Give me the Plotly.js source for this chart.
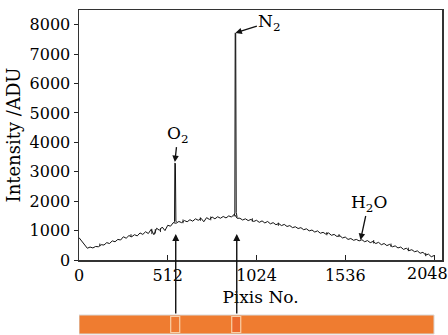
<!DOCTYPE html>
<html>
<head>
<meta charset="utf-8">
<script src="https://cdn.plot.ly/plotly-3.0.1.min.js"></script>
<style>html,body{margin:0;padding:0;background:#fff;}#chart{width:448px;height:335px;}</style>
</head>
<body>
<div id="chart"></div>
<script>
// Baseline spectrum (pixel index, intensity in ADU)
const basePixels = [0,16,32,48,64,80,96,112,128,144,160,176,192,208,224,240,256,272,288,304,320,336,352,368,384,400,416,432,448,464,480,496,512,528,544,560,576,592,608,624,640,656,672,688,704,720,736,752,768,784,800,816,832,848,864,880,896,912,928,944,960,976,992,1008,1024,1040,1056,1072,1088,1104,1120,1136,1152,1168,1184,1200,1216,1232,1248,1264,1280,1296,1312,1328,1344,1360,1376,1392,1408,1424,1440,1456,1472,1488,1504,1520,1536,1552,1568,1584,1600,1616,1632,1648,1664,1680,1696,1712,1728,1744,1760,1776,1792,1808,1824,1840,1856,1872,1888,1904,1920,1936,1952,1968,1984,2000,2016,2032,2048];
const baseCounts = [760,640,480,400,440,410,460,450,520,510,590,560,650,620,700,680,790,740,830,790,860,820,920,870,960,900,1040,860,1080,1010,1120,1000,1180,1150,1270,1250,1310,1270,1340,1300,1370,1320,1400,1350,1420,1300,1440,1380,1460,1400,1470,1420,1480,1430,1500,1460,1560,1420,1420,1360,1400,1340,1380,1310,1350,1280,1330,1260,1310,1230,1270,1200,1240,1170,1210,1140,1170,1100,1130,1070,1100,1030,1060,990,1020,950,990,910,940,880,920,840,870,800,830,750,780,700,730,670,700,650,690,620,660,590,630,560,600,520,560,490,530,450,480,410,440,360,400,320,350,280,310,230,260,170,200,110,150];
// Short noise spikes on the baseline (pixel, low, high)
const spikePixels = [120,300,420,440,470,600,700,760,1000,1150,1430,1500,1700,1800,1900,2000];
const spikeLow    = [470,780,880,900,950,1250,1330,1350,1300,1160,840,780,560,440,300,130];
const spikeHigh   = [560,880,1060,1050,1080,1380,1450,1480,1420,1270,950,880,680,560,420,240];
// O2 line
const o2Pixels = [546,551,553,556,559,564];
const o2Counts = [1270,1300,3300,3280,1320,1290];
// N2 line
const n2Pixels = [894,899,901,904,907,912];
const n2Counts = [1480,1600,7720,7700,1620,1450];
// Axis ticks
const xTicks = [0,512,1024,1536,2048];
const xTickText = ['0','512','1024','1536',''];
const yTicks = [0,1000,2000,3000,4000,5000,6000,7000,8000];
// Detector strip and highlighted regions (pixel ranges)
const stripRange = [0,2048];
const o2Region = [529,581];
const n2Region = [881,933];

const serif = 'DejaVu Serif, serif';
const lineStyle = {color:'#111', width:1};

const spikeX = [], spikeY = [];
spikePixels.forEach((p, i) => { spikeX.push(p, p, null); spikeY.push(spikeLow[i], spikeHigh[i], null); });

const traces = [
  {x:basePixels, y:baseCounts, type:'scatter', mode:'lines', line:lineStyle, hoverinfo:'skip'},
  {x:spikeX, y:spikeY, type:'scatter', mode:'lines', line:{color:'#111', width:0.9}, hoverinfo:'skip', connectgaps:false},
  {x:o2Pixels, y:o2Counts, type:'scatter', mode:'lines', line:lineStyle, hoverinfo:'skip'},
  {x:n2Pixels, y:n2Counts, type:'scatter', mode:'lines', line:lineStyle, hoverinfo:'skip'}
];

const fnt = {family:serif, size:16, color:'#000'};

const layout = {
  width:448, height:335,
  margin:{l:79, r:6, t:10, b:75},
  paper_bgcolor:'#fff', plot_bgcolor:'#fff',
  showlegend:false,
  font:fnt,
  xaxis:{
    range:[0,2094], tickvals:xTicks, ticktext:xTickText,
    ticks:'inside', ticklen:5, tickcolor:'#222',
    showline:true, linecolor:'#333', linewidth:1.5, mirror:true,
    showgrid:false, zeroline:false,
    tickfont:fnt,
    title:{text:'Pixis No.', font:{family:serif, size:17, color:'#000'}, standoff:7}
  },
  yaxis:{
    range:[0,8500], tickvals:yTicks, ticktext:yTicks.map(String),
    ticks:'outside', ticklen:4, tickcolor:'#222',
    showline:true, linecolor:'#333', linewidth:1.5, mirror:true,
    showgrid:false, zeroline:false,
    tickfont:fnt,
    title:{text:'Intensity /ADU', font:{family:serif, size:18, color:'#000'}, standoff:4}
  },
  shapes:[
    {type:'rect', xref:'x', yref:'paper', x0:stripRange[0], x1:stripRange[1], y0:-0.296, y1:-0.22,
     fillcolor:'#EF7C30', line:{color:'#d9d9d9', width:1}, layer:'above'},
    {type:'rect', xref:'x', yref:'paper', x0:o2Region[0], x1:o2Region[1], y0:-0.29, y1:-0.226,
     fillcolor:'#EE7A34', line:{color:'#F9CFA8', width:1.2}, layer:'above'},
    {type:'rect', xref:'x', yref:'paper', x0:n2Region[0], x1:n2Region[1], y0:-0.29, y1:-0.226,
     fillcolor:'#EC6A2E', line:{color:'#F9CFA8', width:1.2}, layer:'above'}
  ],
  annotations:[
    {x:2048, y:0, xref:'x', yref:'paper', text:String(xTicks[4]), showarrow:false,
     xanchor:'center', yanchor:'top', xshift:-7, yshift:-2, font:fnt},
    {x:902, y:7718, xref:'x', yref:'y', text:'N<sub>2</sub>', showarrow:true, ax:34, ay:-11,
     arrowhead:2, arrowsize:1, arrowwidth:1.3, arrowcolor:'#111', font:{family:serif, size:17, color:'#000'}},
    {x:553, y:3330, xref:'x', yref:'y', text:'O<sub>2</sub>', showarrow:true, ax:3, ay:-28,
     arrowhead:2, arrowsize:1, arrowwidth:1.3, arrowcolor:'#111', font:{family:serif, size:17, color:'#000'}},
    {x:1624, y:680, xref:'x', yref:'y', text:'H<sub>2</sub>O', showarrow:true, ax:8, ay:-37,
     arrowhead:2, arrowsize:1, arrowwidth:1.3, arrowcolor:'#111', font:{family:serif, size:17, color:'#000'}},
    {x:558, y:0.104, xref:'x', yref:'paper', text:'', showarrow:true, ax:0, ay:81,
     arrowhead:2, arrowsize:1, arrowwidth:1.4, arrowcolor:'#111'},
    {x:910, y:0.104, xref:'x', yref:'paper', text:'', showarrow:true, ax:0, ay:81,
     arrowhead:2, arrowsize:1, arrowwidth:1.4, arrowcolor:'#111'}
  ]
};

Plotly.newPlot('chart', traces, layout, {displayModeBar:false, staticPlot:true});
</script>
</body>
</html>
